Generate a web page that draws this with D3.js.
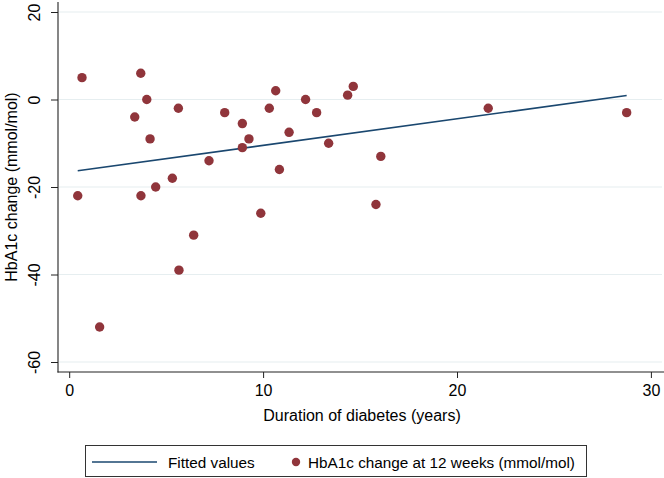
<!DOCTYPE html>
<html>
<head>
<meta charset="utf-8">
<script src="https://cdn.jsdelivr.net/npm/d3@7"></script>
<style>
  html, body { margin: 0; padding: 0; background: #fff; }
  svg { display: block; font-family: "Liberation Sans", Arial, Helvetica, sans-serif; }
</style>
</head>
<body>
<svg id="chart" width="664" height="478"></svg>
<script>
// ---- data ----
const duration = [0.66, 0.44, 1.57, 3.38, 3.69, 4.0, 4.17, 3.70, 4.46, 5.32,
                  5.63, 5.66, 6.42, 7.21, 8.02, 8.93, 8.93, 9.27, 9.88, 10.32,
                  10.65, 10.84, 11.34, 12.19, 12.76, 13.38, 14.36, 14.65, 15.82, 16.07,
                  21.61, 28.75];
const hba1cChange = [5, -22, -52, -4, 6, 0, -9, -22, -20, -18,
                     -2, -39, -31, -14, -3, -5.5, -11, -9, -26, -2,
                     2, -16, -7.5, 0, -3, -10, 1, 3, -24, -13,
                     -2, -3];
const fittedX = [0.44, 28.75];
const fittedY = [-16.3, 0.9];
const xTicks = [0, 10, 20, 30];
const yTicks = [20, 0, -20, -40, -60];
const xTitle = "Duration of diabetes (years)";
const yTitle = "HbA1c change (mmol/mol)";
const legendLabels = ["Fitted values", "HbA1c change at 12 weeks (mmol/mol)"];

// ---- layout ----
const svg = d3.select("#chart");
const plot = { left: 58, right: 664, top: 2, bottom: 372 };
const x = d3.scaleLinear().domain([0, 30]).range([69.2, 650.9]);
const y = d3.scaleLinear().domain([-60, 20]).range([362, 12]);

const navy = "#1a476f";
const maroon = "#90353b";
const axisColor = "#222";
const fontSize = 16;
const fmt = d => String(d);

// gridlines
svg.append("g").selectAll("line").data(yTicks).join("line")
  .attr("x1", plot.left + 1).attr("x2", 662)
  .attr("y1", d => y(d)).attr("y2", d => y(d))
  .attr("stroke", "#e6eef0").attr("stroke-width", 1.2);

// y axis
const yAxisG = svg.append("g").attr("transform", `translate(${plot.left},0)`)
  .call(d3.axisLeft(y).tickValues(yTicks).tickSize(7).tickSizeOuter(0).tickFormat(fmt));
yAxisG.select(".domain").remove();
yAxisG.selectAll(".tick line").attr("stroke", axisColor);
yAxisG.selectAll(".tick text")
  .attr("transform", "rotate(-90)")
  .attr("x", 0).attr("y", -18).attr("dy", 0)
  .attr("text-anchor", "middle")
  .attr("font-size", fontSize).attr("fill", "#000")
  .style("font-family", "Liberation Sans, Arial, sans-serif");
svg.append("line").attr("x1", plot.left).attr("x2", plot.left)
  .attr("y1", plot.top).attr("y2", plot.bottom + 0.5)
  .attr("stroke", axisColor).attr("stroke-width", 1.1);

// x axis
const xAxisG = svg.append("g").attr("transform", `translate(0,${plot.bottom})`)
  .call(d3.axisBottom(x).tickValues(xTicks).tickSize(6).tickSizeOuter(0).tickFormat(fmt));
xAxisG.select(".domain").remove();
xAxisG.selectAll(".tick line").attr("stroke", axisColor);
xAxisG.selectAll(".tick text")
  .attr("y", 24).attr("dy", 0)
  .attr("font-size", fontSize).attr("fill", "#000")
  .style("font-family", "Liberation Sans, Arial, sans-serif");
svg.append("line").attr("x1", plot.left - 0.5).attr("x2", plot.right)
  .attr("y1", plot.bottom).attr("y2", plot.bottom)
  .attr("stroke", axisColor).attr("stroke-width", 1.1);

// axis titles
svg.append("text")
  .attr("transform", `translate(17,${187}) rotate(-90)`)
  .attr("text-anchor", "middle").attr("font-size", fontSize).attr("fill", "#000")
  .text(yTitle);
svg.append("text")
  .attr("x", 362).attr("y", 421)
  .attr("text-anchor", "middle").attr("font-size", fontSize).attr("fill", "#000")
  .text(xTitle);

// fitted line
const line = d3.line().x(d => x(d[0])).y(d => y(d[1]));
svg.append("path")
  .datum(d3.zip(fittedX, fittedY))
  .attr("d", line)
  .attr("fill", "none").attr("stroke", navy).attr("stroke-width", 1.6);

// scatter points
svg.append("g").selectAll("circle")
  .data(d3.zip(duration, hba1cChange)).join("circle")
  .attr("cx", d => x(d[0])).attr("cy", d => y(d[1]))
  .attr("r", 4.7).attr("fill", maroon);

// legend
const legendFont = 15.3;
const lg = svg.append("g");
lg.append("rect").attr("x", 85.5).attr("y", 445.5).attr("width", 501).attr("height", 31)
  .attr("fill", "#fff").attr("stroke", "#333").attr("stroke-width", 1);
lg.append("line").attr("x1", 92).attr("x2", 157).attr("y1", 462).attr("y2", 462)
  .attr("stroke", navy).attr("stroke-width", 1.6);
lg.append("text").attr("x", 168).attr("y", 467.5).attr("font-size", legendFont).attr("fill", "#000")
  .text(legendLabels[0]);
lg.append("circle").attr("cx", 296).attr("cy", 462).attr("r", 4.2).attr("fill", maroon);
lg.append("text").attr("x", 308).attr("y", 467.5).attr("font-size", legendFont).attr("fill", "#000")
  .text(legendLabels[1]);
</script>
</body>
</html>
